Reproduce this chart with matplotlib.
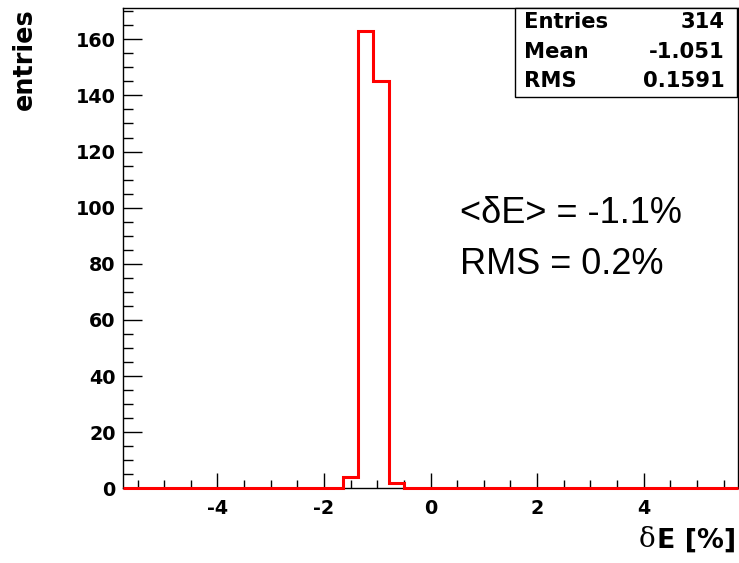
import numpy as np
import matplotlib
matplotlib.use("Agg")
import matplotlib.pyplot as plt
from matplotlib.patches import Rectangle
from matplotlib.ticker import MultipleLocator

plt.rcParams["axes.unicode_minus"] = False

# histogram of the energy deviation, bins in percent
x_range = (-5.78, 5.77)
bin_lo = -1.65
bin_width = 0.2875
counts = [4, 163, 145, 2]

stats_labels = ["Entries", "Mean", "RMS"]
stats_values = ["314", "-1.051", "0.1591"]

note_lines = ["<δE> = -1.1%", "RMS = 0.2%"]

# pad with empty bins so the zero line spans the full axis
edges = [x_range[0]] + [bin_lo + i * bin_width for i in range(len(counts) + 1)] + [x_range[1]]
values = [0] + counts + [0]

fig = plt.figure(figsize=(7.39, 5.63), dpi=100)
ax = fig.add_axes([0.166, 0.1327, 0.8326, 0.8523])

ax.stairs(values, edges, color="red", linewidth=2.2, baseline=None,
          clip_on=False, zorder=3)

ax.set_xlim(*x_range)
ax.set_ylim(0, 171)

ax.xaxis.set_major_locator(MultipleLocator(2))
ax.xaxis.set_minor_locator(MultipleLocator(0.5))
ax.yaxis.set_major_locator(MultipleLocator(20))
ax.yaxis.set_minor_locator(MultipleLocator(5))

ax.tick_params(axis="both", which="both", direction="in", color="black", width=1)
ax.tick_params(axis="x", which="major", length=11, pad=8)
ax.tick_params(axis="x", which="minor", length=6)
ax.tick_params(axis="y", which="major", length=14, pad=5)
ax.tick_params(axis="y", which="minor", length=7)
for lab in ax.get_xticklabels() + ax.get_yticklabels():
    lab.set_fontsize(13.8)
    lab.set_fontweight("bold")

for sp in ax.spines.values():
    sp.set_linewidth(1)
    sp.set_color("black")

fig.text(0.033, 0.985, "entries", rotation=90, ha="center", va="top",
         fontsize=18.4, fontweight="bold")

# axis title: serif delta in front of the bold sans part
xl = fig.text(0.996, 0.028, "E [%]", ha="right", va="baseline",
              fontsize=19.3, fontweight="bold")
fig.canvas.draw()
bb = xl.get_window_extent()
fig.text(bb.x0 / fig.bbox.width - 0.002, 0.028, "δ", ha="right", va="baseline",
         fontsize=20, family="DejaVu Serif")

# statistics box
box = Rectangle((0.697, 0.828), 0.3, 0.157, transform=fig.transFigure,
                facecolor="white", edgecolor="black", linewidth=1, zorder=5)
fig.patches.append(box)
row_y = [0.961, 0.908, 0.857]
for name, val, y in zip(stats_labels, stats_values, row_y):
    fig.text(0.709, y, name, ha="left", va="center", fontsize=15.2,
             fontweight="bold", zorder=6)
    fig.text(0.981, y, val, ha="right", va="center", fontsize=15.2,
             fontweight="bold", zorder=6)

note_y = [0.604, 0.513]
for line, y in zip(note_lines, note_y):
    fig.text(0.622, y, line, ha="left", va="baseline", fontsize=26,
             family=["Liberation Sans", "DejaVu Sans"])

fig.savefig("out.png", dpi=100)
